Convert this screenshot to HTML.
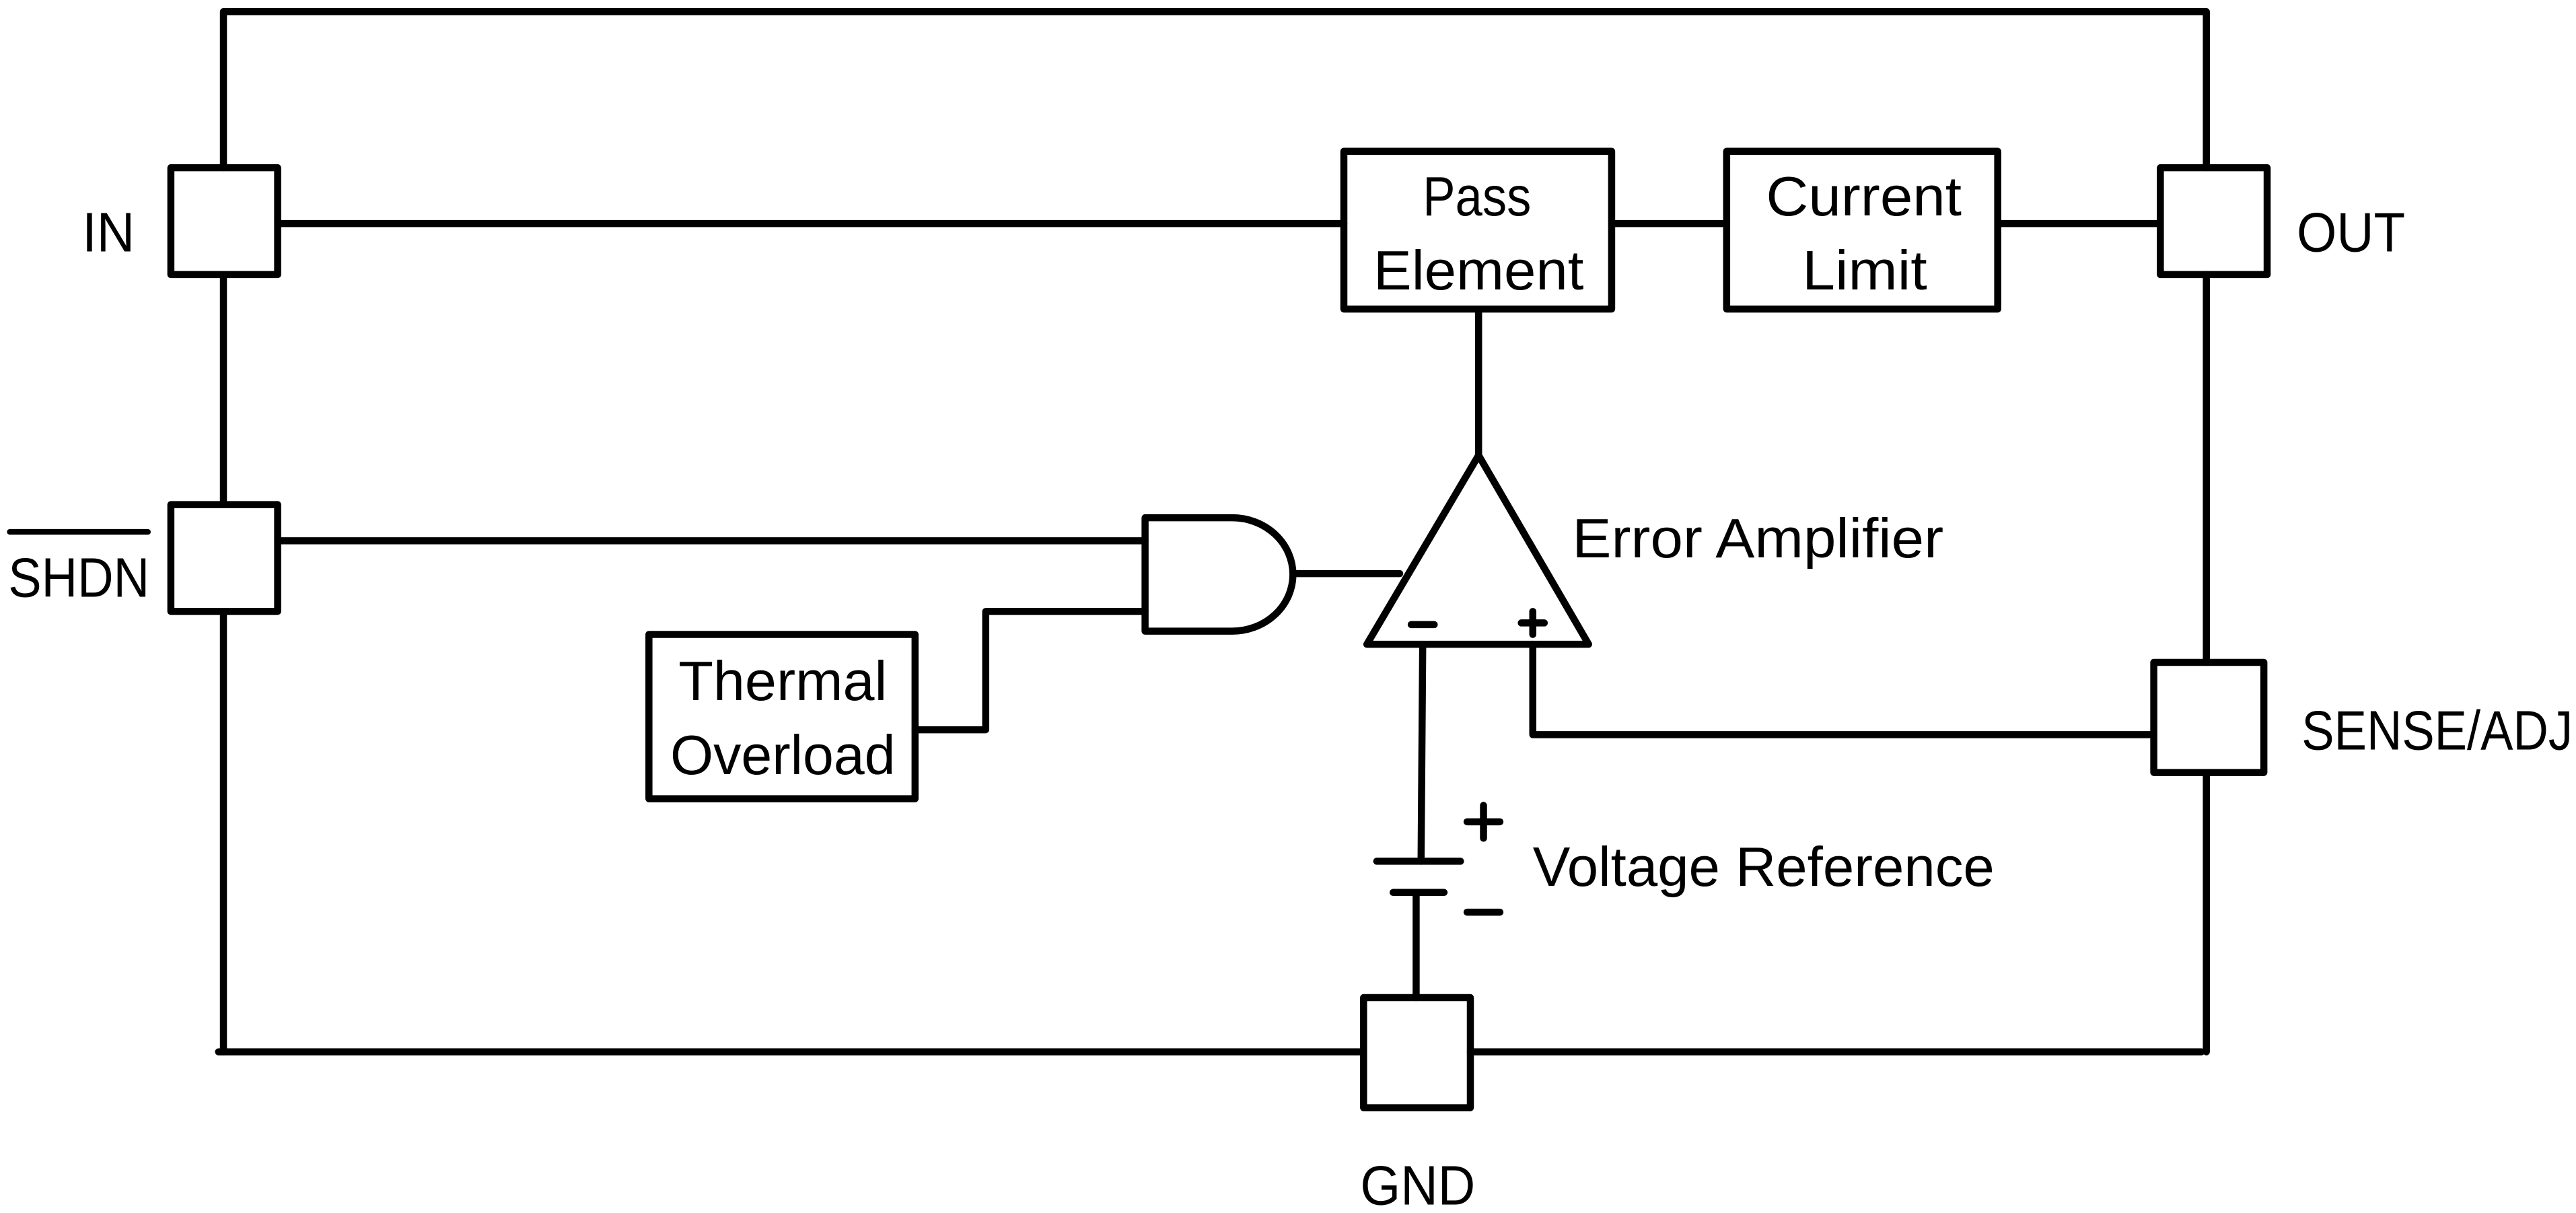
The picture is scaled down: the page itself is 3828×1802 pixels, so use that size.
<!DOCTYPE html>
<html><head><meta charset="utf-8"><style>
html,body{margin:0;padding:0;background:#fff;}
svg{display:block;}
text{font-family:"Liberation Sans",sans-serif;font-size:34px;fill:#000;}
</style></head><body>
<svg width="3828" height="1802" viewBox="0 0 1568 738" xmlns="http://www.w3.org/2000/svg">
<g fill="none" stroke="#000" stroke-width="4.3" stroke-linecap="round" stroke-linejoin="round">
<polyline points="136,102 136,7 1343,7 1343,102"/>
<line x1="136" y1="169" x2="136" y2="307"/>
<line x1="136" y1="372" x2="136" y2="640"/>
<line x1="133" y1="640" x2="830" y2="640"/>
<line x1="895" y1="640" x2="1340" y2="640"/>
<line x1="1343" y1="167" x2="1343" y2="403"/>
<line x1="1343" y1="470" x2="1343" y2="640"/>
<rect x="104" y="102" width="65" height="65"/>
<rect x="104" y="307" width="65" height="65"/>
<rect x="1315" y="102" width="65" height="65"/>
<rect x="1311" y="403" width="67" height="67"/>
<rect x="830" y="607" width="65" height="67"/>
<rect x="818" y="92" width="163" height="96"/>
<rect x="1051" y="92" width="165" height="96"/>
<rect x="395" y="386" width="162" height="100"/>
<line x1="169" y1="136" x2="818" y2="136"/>
<line x1="981" y1="136" x2="1051" y2="136"/>
<line x1="1216" y1="136" x2="1315" y2="136"/>
<line x1="900" y1="188" x2="900" y2="277"/>
<line x1="169" y1="329" x2="697" y2="329"/>
<polyline points="557,444 600,444 600,372 697,372"/>
<path d="M697,315 L750,315 A37,34.5 0 0 1 750,384 L697,384 Z"/>
<line x1="788" y1="349" x2="852" y2="349"/>
<polygon points="900,277 832,392 967,392"/>
<line x1="866" y1="392" x2="865" y2="524"/>
<polyline points="933,392 933,447 1311,447"/>
<line x1="838" y1="524" x2="889" y2="524"/>
<line x1="848" y1="543" x2="879" y2="543"/>
<line x1="862" y1="543" x2="862" y2="607"/>
<line x1="859" y1="380" x2="873" y2="380"/>
<line x1="926" y1="379" x2="940" y2="379"/>
<line x1="933" y1="372" x2="933" y2="386"/>
<line x1="893" y1="500" x2="913" y2="500"/>
<line x1="903" y1="490" x2="903" y2="510"/>
<line x1="893" y1="555" x2="913" y2="555"/>
<line x1="6" y1="323.6" x2="90" y2="323.6" stroke-width="3.5"/>
</g>
<text x="50" y="153" textLength="32" lengthAdjust="spacingAndGlyphs">IN</text>
<text x="5" y="363" textLength="86" lengthAdjust="spacingAndGlyphs">SHDN</text>
<text x="1398" y="153" textLength="66" lengthAdjust="spacingAndGlyphs">OUT</text>
<text x="1401" y="456" textLength="165" lengthAdjust="spacingAndGlyphs">SENSE/ADJ</text>
<text x="828" y="733" textLength="70" lengthAdjust="spacingAndGlyphs">GND</text>
<text x="957" y="339" textLength="226" lengthAdjust="spacingAndGlyphs">Error Amplifier</text>
<text x="933" y="539" textLength="281" lengthAdjust="spacingAndGlyphs">Voltage Reference</text>
<text x="866" y="131" textLength="66" lengthAdjust="spacingAndGlyphs">Pass</text>
<text x="836" y="176" textLength="128" lengthAdjust="spacingAndGlyphs">Element</text>
<text x="1075" y="131" textLength="119" lengthAdjust="spacingAndGlyphs">Current</text>
<text x="1097" y="176" textLength="76" lengthAdjust="spacingAndGlyphs">Limit</text>
<text x="413" y="426" textLength="127" lengthAdjust="spacingAndGlyphs">Thermal</text>
<text x="408" y="471" textLength="137" lengthAdjust="spacingAndGlyphs">Overload</text>
</svg>
</body></html>
